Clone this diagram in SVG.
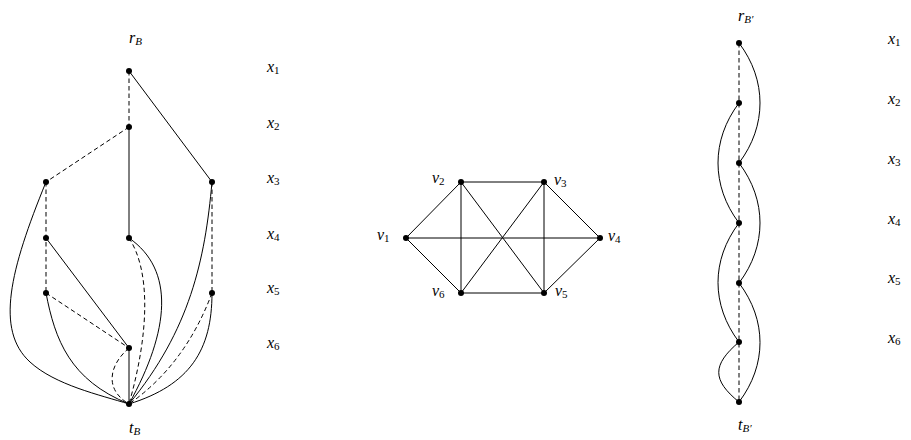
<svg xmlns="http://www.w3.org/2000/svg" width="911" height="440" viewBox="0 0 911 440">
<style>
.e{fill:none;stroke:#000;stroke-width:1}
.d{fill:none;stroke:#000;stroke-width:1;stroke-dasharray:4.5 3}
.n{fill:#000}
text{font-family:"Liberation Serif","DejaVu Serif",serif;font-style:italic;font-size:16px;fill:#000}
.s{font-style:normal;font-size:11px}
.ss{font-style:italic;font-size:11px}
</style>
<rect width="911" height="440" fill="#fff"/>
<g id="connectors">
<line class="d" x1="129" y1="71" x2="129" y2="127"/>
<line class="e" x1="129" y1="71" x2="212" y2="182"/>
<line class="d" x1="129" y1="127" x2="46" y2="182"/>
<line class="e" x1="129" y1="127" x2="129" y2="238"/>
<line class="d" x1="46" y1="182" x2="46" y2="293"/>
<line class="d" x1="212" y1="182" x2="212" y2="293"/>
<path class="e" d="M46,182 C10,270 -5,330 30,362 C55,385 100,395 129,404"/>
<path class="e" d="M212,182 C205,260 190,330 129,404"/>
<line class="e" x1="46" y1="238" x2="129" y2="348"/>
<line class="d" x1="46" y1="293" x2="129" y2="348"/>
<path class="e" d="M46,293 C55,340 70,380 129,404"/>
<path class="e" d="M129,238 C175,270 170,330 129,404"/>
<path class="d" d="M129,238 C150,270 150,330 129,404"/>
<path class="e" d="M212,293 C212,350 190,385 129,404"/>
<path class="d" d="M212,293 Q185,365 129,404"/>
<line class="e" x1="129" y1="348" x2="129" y2="404"/>
<path class="d" d="M129,348 C108,366 105,390 129,404"/>
<line class="e" x1="406" y1="238" x2="461" y2="182"/>
<line class="e" x1="406" y1="238" x2="461" y2="293"/>
<line class="e" x1="406" y1="238" x2="600" y2="238"/>
<line class="e" x1="461" y1="182" x2="544" y2="182"/>
<line class="e" x1="461" y1="182" x2="461" y2="293"/>
<line class="e" x1="461" y1="182" x2="544" y2="293"/>
<line class="e" x1="544" y1="182" x2="461" y2="293"/>
<line class="e" x1="544" y1="182" x2="544" y2="293"/>
<line class="e" x1="544" y1="182" x2="600" y2="238"/>
<line class="e" x1="600" y1="238" x2="544" y2="293"/>
<line class="e" x1="461" y1="293" x2="544" y2="293"/>
<line class="d" x1="739" y1="43" x2="739" y2="402"/>
<path class="e" d="M739,43 C767,80 767,126 739,163"/>
<path class="e" d="M739,103 C711,140 711,186 739,223"/>
<path class="e" d="M739,163 C767,200 767,246 739,283"/>
<path class="e" d="M739,223 C711,260 711,305 739,342"/>
<path class="e" d="M739,283 C767,320 767,365 739,402"/>
<path class="e" d="M739,342 C712,365 712,380 739,402"/>
</g>
<g id="B-nodes">
<circle id="rB" class="n" cx="129" cy="71" r="3"/>
<circle class="n" cx="129" cy="127" r="3"/>
<circle class="n" cx="46" cy="182" r="3"/>
<circle class="n" cx="212" cy="182" r="3"/>
<circle class="n" cx="46" cy="238" r="3"/>
<circle class="n" cx="129" cy="238" r="3"/>
<circle class="n" cx="46" cy="293" r="3"/>
<circle class="n" cx="212" cy="293" r="3"/>
<circle class="n" cx="129" cy="348" r="3"/>
<circle id="tB" class="n" cx="129" cy="404" r="3"/>
<text x="129" y="43">r<tspan class="ss" dy="2">B</tspan></text>
<text x="129" y="433">t<tspan class="ss" dy="2">B</tspan></text>
</g>
<g id="B-levels">
<text x="267" y="72">x<tspan class="s" dy="2">1</tspan></text>
<text x="267" y="128">x<tspan class="s" dy="2">2</tspan></text>
<text x="267" y="183">x<tspan class="s" dy="2">3</tspan></text>
<text x="267" y="239">x<tspan class="s" dy="2">4</tspan></text>
<text x="267" y="293">x<tspan class="s" dy="2">5</tspan></text>
<text x="267" y="348">x<tspan class="s" dy="2">6</tspan></text>
</g>
<g id="v1"><circle class="n" cx="406" cy="238" r="3"/><text x="377" y="240">v<tspan class="s" dy="2">1</tspan></text></g>
<g id="v2"><circle class="n" cx="461" cy="182" r="3"/><text x="432" y="183">v<tspan class="s" dy="2">2</tspan></text></g>
<g id="v3"><circle class="n" cx="544" cy="182" r="3"/><text x="554" y="185">v<tspan class="s" dy="2">3</tspan></text></g>
<g id="v4"><circle class="n" cx="600" cy="238" r="3"/><text x="608" y="241">v<tspan class="s" dy="2">4</tspan></text></g>
<g id="v5"><circle class="n" cx="544" cy="293" r="3"/><text x="555" y="296">v<tspan class="s" dy="2">5</tspan></text></g>
<g id="v6"><circle class="n" cx="461" cy="293" r="3"/><text x="432" y="296">v<tspan class="s" dy="2">6</tspan></text></g>
<g id="Bp-nodes">
<circle class="n" cx="739" cy="43" r="3"/>
<circle class="n" cx="739" cy="103" r="3"/>
<circle class="n" cx="739" cy="163" r="3"/>
<circle class="n" cx="739" cy="223" r="3"/>
<circle class="n" cx="739" cy="283" r="3"/>
<circle class="n" cx="739" cy="342" r="3"/>
<circle class="n" cx="739" cy="402" r="3"/>
<text x="738" y="21">r<tspan class="ss" dy="2">B′</tspan></text>
<text x="738" y="430">t<tspan class="ss" dy="2">B′</tspan></text>
</g>
<g id="Bp-levels">
<text x="888" y="44">x<tspan class="s" dy="2">1</tspan></text>
<text x="888" y="104">x<tspan class="s" dy="2">2</tspan></text>
<text x="888" y="164">x<tspan class="s" dy="2">3</tspan></text>
<text x="888" y="224">x<tspan class="s" dy="2">4</tspan></text>
<text x="888" y="283">x<tspan class="s" dy="2">5</tspan></text>
<text x="888" y="343">x<tspan class="s" dy="2">6</tspan></text>
</g>
</svg>
